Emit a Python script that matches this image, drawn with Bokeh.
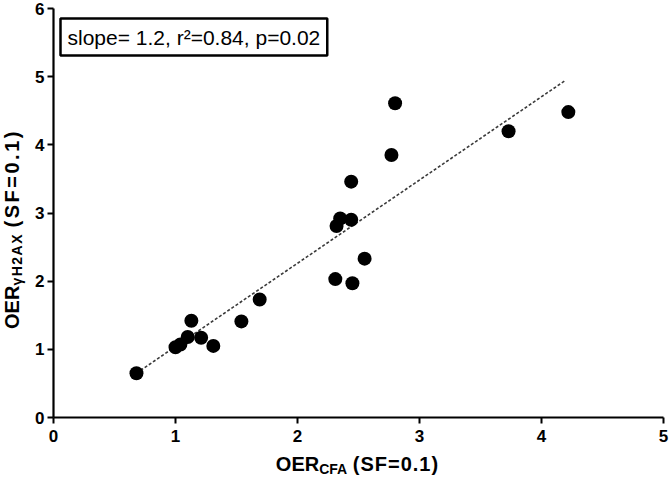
from bokeh.plotting import figure
from bokeh.models import Range1d, Label, FixedTicker, ColumnDataSource, Div
from bokeh.layouts import row, column
from bokeh.embed import file_html
from bokeh.resources import INLINE

# ---- data ----
oer_cfa = [0.68, 1.00, 1.04, 1.10, 1.13, 1.21, 1.31, 1.54, 1.69, 2.31,
           2.45, 2.55, 2.32, 2.35, 2.44, 2.44, 2.77, 2.80, 3.73, 4.22]
oer_h2ax = [0.65, 1.03, 1.07, 1.18, 1.42, 1.17, 1.05, 1.41, 1.73, 2.03,
            1.97, 2.33, 2.81, 2.92, 2.90, 3.46, 3.85, 4.61, 4.20, 4.48]
fit_x = [0.68, 4.20]
fit_y = [0.65, 4.95]
x_ticks = [0, 1, 2, 3, 4, 5]
y_ticks = [0, 1, 2, 3, 4, 5, 6]
stats_text = "slope= 1.2, r\u00b2=0.84, p=0.02"
x_label_main, x_label_sub, x_label_tail = "OER", "CFA", "(SF=0.1)"
y_label_main, y_label_sub, y_label_tail = "OER", "\u03b3H2AX", "(SF=0.1)"

FONT = "Liberation Sans"

YDIV_W = 28
PLOT_W = 669 - YDIV_W
PLOT_H = 449
XDIV_H = 28
TOTAL_H = PLOT_H + XDIV_H

p = figure(width=PLOT_W, height=PLOT_H, x_range=Range1d(0, 5), y_range=Range1d(0, 6),
           output_backend="svg", toolbar_location=None,
           min_border_left=25, min_border_right=6, min_border_top=8, min_border_bottom=32)
p.outline_line_color = None
p.xgrid.visible = False
p.ygrid.visible = False
p.background_fill_color = "white"
p.border_fill_color = "white"

for ax, ticks in ((p.xaxis, x_ticks), (p.yaxis, y_ticks)):
    ax.ticker = FixedTicker(ticks=ticks)
    ax.axis_line_width = 2.2
    ax.axis_line_color = "black"
    ax.major_tick_line_width = 2
    ax.major_tick_line_color = "black"
    ax.major_tick_out = 6
    ax.major_tick_in = 0
    ax.minor_tick_out = 0
    ax.minor_tick_in = 0
    ax.major_label_text_font = FONT
    ax.major_label_text_font_style = "bold"
    ax.major_label_text_font_size = "17px"
    ax.major_label_text_color = "black"
p.xaxis.major_label_standoff = 6
p.yaxis.major_label_standoff = 3

# regression line
p.line(fit_x, fit_y, line_color="#3a3a3a", line_width=1.6, line_dash="3 2")

# points
src = ColumnDataSource(dict(x=oer_cfa, y=oer_h2ax))
p.scatter("x", "y", source=src, size=14, fill_color="black", line_color="black", line_width=0)

# stats box (inside the frame)
p.add_layout(Label(x=7, y=399, x_units="screen", y_units="screen", text=stats_text,
                   text_font=FONT, text_font_size="21px", text_color="black",
                   text_align="left", text_baseline="top",
                   border_line_color="black", border_line_width=2.5,
                   background_fill_color="white", padding=7))

font_css = ("font-family:'Liberation Sans',Arial,sans-serif;font-weight:bold;"
            "font-size:20px;line-height:20px;color:#000;white-space:nowrap;")
sub_css = "font-size:14px;vertical-align:-3px;line-height:0;"

# x-axis label with subscript
x_html = (f'<div style="width:{PLOT_W}px;box-sizing:border-box;padding-left:18px;'
          f'padding-top:5px;text-align:center;{font_css}">'
          f'{x_label_main}<sub style="{sub_css}">{x_label_sub}</sub> '
          f'<span style="letter-spacing:1px;">{x_label_tail}</span></div>')
xdiv = Div(text=x_html, width=PLOT_W, height=XDIV_H, margin=0)

# y-axis label (rotated) with subscript
center_y = 229
box_len = 320
y_html = (f'<div style="position:relative;width:{YDIV_W}px;height:{TOTAL_H}px;">'
          f'<div style="position:absolute;left:2px;top:{center_y + box_len // 2}px;'
          f'width:{box_len}px;transform-origin:0 0;transform:rotate(-90deg);'
          f'text-align:center;{font_css}">'
          f'{y_label_main}<sub style="{sub_css}letter-spacing:1.5px;">{y_label_sub}</sub> '
          f'<span style="letter-spacing:2.5px;">{y_label_tail}</span></div></div>')
ydiv = Div(text=y_html, width=YDIV_W, height=TOTAL_H, margin=0)

layout = row(ydiv, column(p, xdiv, spacing=0), spacing=0)

open("out.html", "w").write(file_html(layout, INLINE))
